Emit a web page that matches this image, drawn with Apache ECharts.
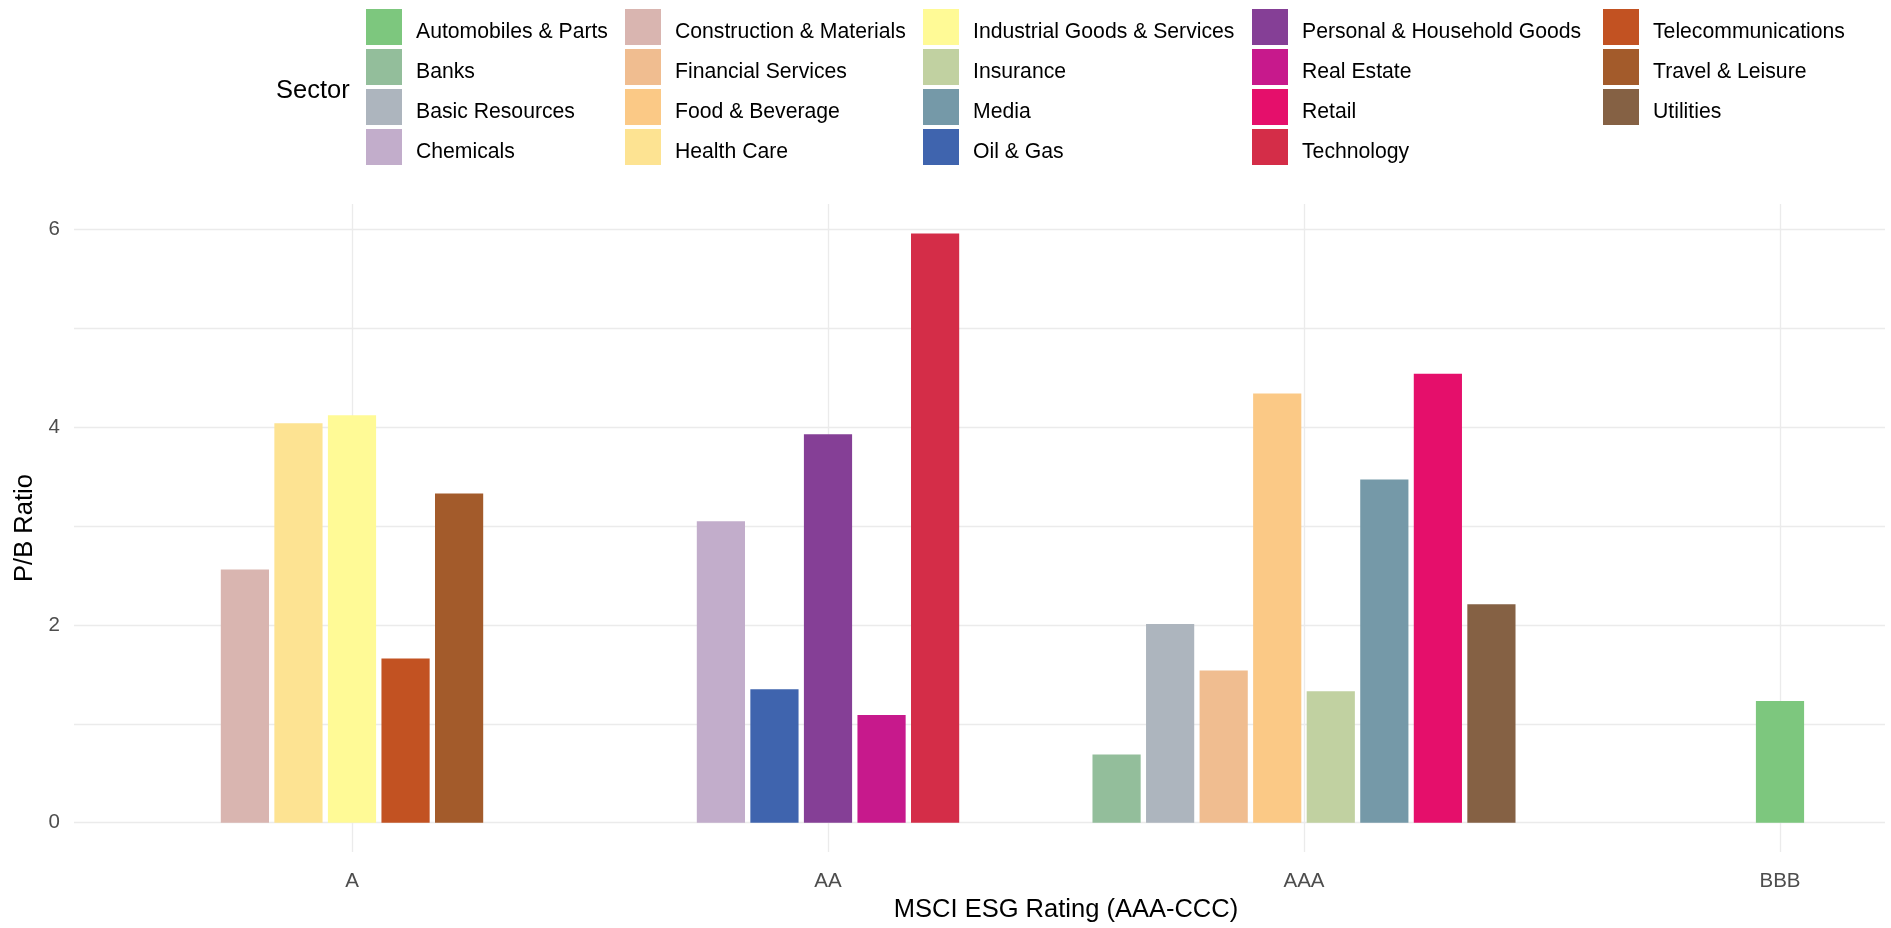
<!DOCTYPE html>
<html>
<head>
<meta charset="utf-8">
<title>P/B Ratio by MSCI ESG Rating and Sector</title>
<script src="https://cdn.jsdelivr.net/npm/echarts@6/dist/echarts.min.js"></script>
<style>
  html, body { margin: 0; padding: 0; background: #ffffff; }
  #chart { width: 1891px; height: 928px; }
</style>
</head>
<body>
<div id="chart"></div>
<script>
// MSCI ESG rating groups on the x axis
const ratings = ['A', 'AA', 'AAA', 'BBB'];

// Sectors, in legend order
const sectors = [
  'Automobiles & Parts', 'Banks', 'Basic Resources', 'Chemicals',
  'Construction & Materials', 'Financial Services', 'Food & Beverage', 'Health Care',
  'Industrial Goods & Services', 'Insurance', 'Media', 'Oil & Gas',
  'Personal & Household Goods', 'Real Estate', 'Retail', 'Technology',
  'Telecommunications', 'Travel & Leisure', 'Utilities'
];

// Rating each sector falls under
const sectorRating = [
  'BBB', 'AAA', 'AAA', 'AA',
  'A', 'AAA', 'AAA', 'A',
  'A', 'AAA', 'AAA', 'AA',
  'AA', 'AA', 'AAA', 'AA',
  'A', 'A', 'AAA'
];

// P/B ratio per sector
const pbRatio = [
  1.23, 0.69, 2.01, 3.05,
  2.56, 1.54, 4.34, 4.04,
  4.12, 1.33, 3.47, 1.35,
  3.93, 1.09, 4.54, 5.96,
  1.66, 3.33, 2.21
];

const yTickLabels = [0, 2, 4, 6];
const yGridValues = [0, 1, 2, 3, 4, 5, 6];

const sectorColors = [
  '#7dc77e', '#93be9b', '#adb5be', '#c2adcb',
  '#d9b5b0', '#f0bd90', '#fbc986', '#fde392',
  '#fffa96', '#c1d1a1', '#7599a8', '#3f64ae',
  '#853f96', '#c7198c', '#e50f6b', '#d42d48',
  '#c25222', '#a35b2b', '#856144'
];

// Dodge bars inside each rating group; every slot has the width of the
// fullest group so bars keep the same width everywhere.
const groupMembers = ratings.map(r => sectors.map((s, i) => i).filter(i => sectorRating[i] === r));
const maxInGroup = Math.max(...groupMembers.map(g => g.length));
const slot = 0.9 / maxInGroup;
const barWidth = slot * 0.9;

function barCenter(i) {
  const g = ratings.indexOf(sectorRating[i]);
  const members = groupMembers[g];
  const j = members.indexOf(i);
  return (g + 1) + (j - (members.length - 1) / 2) * slot;
}

const maxVal = Math.max(...pbRatio);
const yMin = -0.05 * maxVal;
const yMax = 1.05 * maxVal;

// Panel geometry: one rating step is ~476px; the panel runs off the right edge
const GRID_LEFT = 74;
const GRID_RIGHT = 6;
const STEP_PX = 476;
const FIRST_RATING_PX = 352;
const X_MIN = 1 - (FIRST_RATING_PX - GRID_LEFT) / STEP_PX;
const X_MAX = X_MIN + (1891 - GRID_LEFT - GRID_RIGHT) / STEP_PX;
// the axis title is centred on the whole panel (0.4 .. 4.6 in rating units)
const titleCentre = GRID_LEFT + ((0.4 + 4.6) / 2 - X_MIN) * STEP_PX;
const visibleCentre = (GRID_LEFT + 1891 - GRID_RIGHT) / 2;
const titleShift = (titleCentre - visibleCentre) * 2;

const FONT = '"Liberation Sans", Arial, sans-serif';
const GRID_COLOR = '#ebebeb';

const series = sectors.map((name, i) => ({
  type: 'custom',
  name: name,
  itemStyle: { color: sectorColors[i] },
  data: [[barCenter(i), pbRatio[i]]],
  renderItem: function (params, api) {
    const xc = api.value(0);
    const v = api.value(1);
    const p0 = api.coord([xc - barWidth / 2, v]);
    const p1 = api.coord([xc + barWidth / 2, 0]);
    return {
      type: 'rect',
      shape: { x: p0[0], y: p0[1], width: p1[0] - p0[0], height: p1[1] - p0[1] },
      style: { fill: sectorColors[i] }
    };
  }
}));

// Legend laid out in five columns of four keys; labels sit a little below
// the key centre
const legendLefts = [366, 625, 923, 1252, 1603];
const legends = legendLefts.map((left, c) => ({
  orient: 'vertical',
  left: left,
  top: 9,
  padding: 0,
  itemWidth: 36,
  itemHeight: 36,
  itemGap: 4,
  icon: 'rect',
  selectedMode: false,
  data: sectors.slice(c * 4, c * 4 + 4),
  formatter: name => '{t|' + name + '}',
  textStyle: {
    fontFamily: FONT,
    fontSize: 21.2,
    color: '#000000',
    padding: [0, 0, 0, 9],
    rich: {
      t: {
        fontFamily: FONT,
        fontSize: 21.2,
        color: '#000000',
        lineHeight: 31,
        verticalAlign: 'bottom'
      }
    }
  }
}));

const chart = echarts.init(document.getElementById('chart'), null, { renderer: 'canvas' });
chart.setOption({
  backgroundColor: '#ffffff',
  animation: false,
  title: {
    text: 'Sector',
    left: 276,
    top: 78,
    padding: 0,
    textStyle: { fontFamily: FONT, fontSize: 25.5, fontWeight: 'normal', color: '#000000' }
  },
  legend: legends,
  grid: {
    left: GRID_LEFT,
    right: GRID_RIGHT,
    top: 204,
    height: 658,
    containLabel: false
  },
  xAxis: {
    type: 'value',
    min: X_MIN,
    max: X_MAX,
    name: 'MSCI ESG Rating (AAA-CCC)',
    nameLocation: 'middle',
    nameGap: 36,
    nameTextStyle: {
      fontFamily: FONT, fontSize: 25.5, color: '#000000',
      padding: [0, 0, 0, titleShift]
    },
    axisLine: { show: false },
    axisTick: { show: false, customValues: [1, 2, 3, 4] },
    axisLabel: {
      customValues: [1, 2, 3, 4],
      formatter: v => ratings[Math.round(v) - 1],
      fontFamily: FONT,
      fontSize: 20.5,
      color: '#4d4d4d',
      margin: 19
    },
    splitLine: { show: true, lineStyle: { color: GRID_COLOR, width: 1.3 } }
  },
  yAxis: {
    type: 'value',
    min: yMin,
    max: yMax,
    name: 'P/B Ratio',
    nameLocation: 'middle',
    nameGap: 36,
    nameTextStyle: { fontFamily: FONT, fontSize: 25.5, color: '#000000' },
    axisLine: { show: false },
    axisTick: { show: false, customValues: yGridValues },
    axisLabel: {
      customValues: yTickLabels,
      fontFamily: FONT,
      fontSize: 20.5,
      color: '#4d4d4d',
      margin: 14
    },
    splitLine: { show: true, lineStyle: { color: GRID_COLOR, width: 1.3 } }
  },
  series: series
});
</script>
</body>
</html>
